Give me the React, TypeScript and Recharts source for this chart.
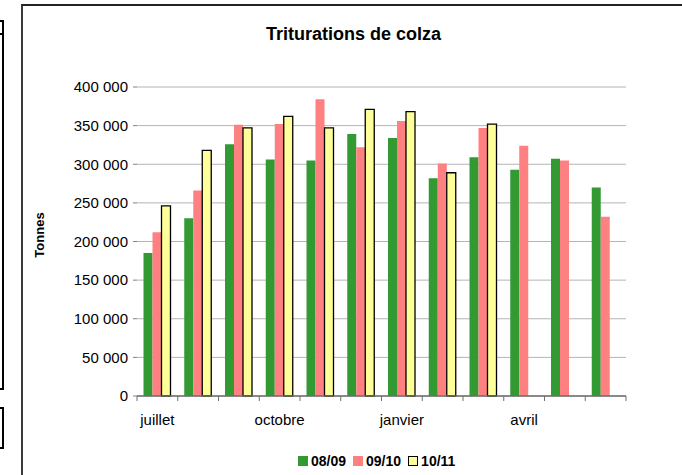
import React from 'react';
import { BarChart, Bar, XAxis, YAxis, CartesianGrid } from 'recharts';

const months = ['juillet', 'août', 'septembre', 'octobre', 'novembre', 'décembre', 'janvier', 'février', 'mars', 'avril', 'mai', 'juin'];
const s0809 = [185000, 230000, 326000, 306000, 305000, 339000, 334000, 282000, 309000, 293000, 307000, 270000];
const s0910 = [212000, 266000, 351000, 352000, 384000, 322000, 356000, 301000, 347000, 324000, 305000, 232000];
const s1011: (number | null)[] = [246000, 318000, 347000, 362000, 347000, 371000, 368000, 289000, 352000, null, null, null];
const yTicks = [0, 50000, 100000, 150000, 200000, 250000, 300000, 350000, 400000];
const seriesNames = ['08/09', '09/10', '10/11'];
const colors = ['#339933', '#ff8080', '#ffff99'];

const data = months.map((m, i) => ({ month: m, a: s0809[i], b: s0910[i], c: s1011[i] }));

const FONT = '"Liberation Sans", Arial, sans-serif';
const W = 682;
const H = 475;
const M = { top: 87, right: 56, bottom: 49, left: 67 };
const YW = 70;
const plotW = W - M.left - YW - M.right;

const fmt = (v: number) => (v === 0 ? '0' : String(v).replace(/\B(?=(\d{3})+(?!\d))/g, ' '));

const XTick = (props: any) => {
  const { x, y, payload, index } = props;
  const off = payload && typeof payload.offset === 'number' && payload.offset > 0 ? payload.offset : plotW / months.length / 2;
  return (
    <g>
      <line x1={x - off} x2={x - off} y1={y} y2={y + 5} stroke="#6e6e6e" strokeWidth={1} />
      {index === months.length - 1 && (
        <line x1={x + off} x2={x + off} y1={y} y2={y + 5} stroke="#6e6e6e" strokeWidth={1} />
      )}
      {index % 3 === 0 && (
        <text x={x} y={y + 28.5} textAnchor="middle" fontSize={15} fontFamily={FONT} fill="#000">
          {payload.value}
        </text>
      )}
    </g>
  );
};

const YLabel = (props: any) => {
  const vb = props.viewBox || { x: M.left, y: M.top, width: YW, height: H - M.top - M.bottom - 30 };
  const cx = vb.x - 23;
  const cy = vb.y + vb.height / 2 - 6.5;
  return (
    <text x={cx} y={cy} transform={`rotate(-90, ${cx}, ${cy})`} textAnchor="middle" fontSize={13} fontWeight="bold" fontFamily={FONT} fill="#000">
      Tonnes
    </text>
  );
};

export default function App() {
  return (
    <div style={{ position: 'absolute', left: 0, top: 0, width: W, height: H, background: '#fff', fontFamily: FONT }}>
      {/* left page artifacts */}
      <div style={{ position: 'absolute', left: -4, top: 20, width: 6, height: 366, borderTop: '2px solid #000', borderRight: '2px solid #000', borderBottom: '2px solid #000' }} />
      <div style={{ position: 'absolute', left: -4, top: 33, width: 8, height: 2, background: '#000' }} />
      <div style={{ position: 'absolute', left: -4, top: 407, width: 6, height: 38, borderTop: '2px solid #000', borderRight: '2px solid #000', borderBottom: '2px solid #000' }} />
      {/* frame */}
      <div style={{ position: 'absolute', left: 21, top: 4, width: W - 21, height: H - 4, borderLeft: '2px solid #3a3a3a', borderTop: '2px solid #222' }} />
      <div style={{ position: 'absolute', left: 0, top: 0 }}>
        <BarChart width={W} height={H} data={data} margin={M} barCategoryGap={6.5} barGap={0}>
          <CartesianGrid vertical={false} stroke="#b4b4b4" />
          <XAxis
            dataKey="month"
            interval={0}
            tickSize={0}
            tickMargin={0}
            tickLine={false}
            tick={<XTick />}
            axisLine={{ stroke: '#6e6e6e', strokeWidth: 1.5 }}
            height={30}
          />
          <YAxis
            width={YW}
            domain={[0, 400000]}
            ticks={yTicks}
            interval={0}
            tickFormatter={fmt}
            axisLine={false}
            tickLine={{ stroke: '#808080' }}
            tickSize={4}
            tickMargin={5}
            tick={{ fontSize: 15, fill: '#000', fontFamily: FONT }}
            label={<YLabel />}
          />
          <Bar dataKey="a" name={seriesNames[0]} fill={colors[0]} isAnimationActive={false} />
          <Bar dataKey="b" name={seriesNames[1]} fill={colors[1]} isAnimationActive={false} />
          <Bar dataKey="c" name={seriesNames[2]} fill={colors[2]} stroke="#000" strokeWidth={1.3} isAnimationActive={false} />
        </BarChart>
      </div>
      {/* title */}
      <div style={{ position: 'absolute', left: 0, width: 707, top: 24, textAlign: 'center', fontSize: 18, fontWeight: 'bold', color: '#000' }}>
        Triturations de colza
      </div>
      {/* legend */}
      <div style={{ position: 'absolute', left: 298, top: 453, display: 'flex', alignItems: 'center', fontSize: 14, fontWeight: 'bold', color: '#000' }}>
        {seriesNames.map((n, i) => (
          <div key={n} style={{ display: 'flex', alignItems: 'center', marginRight: 7 }}>
            <div style={{ width: i === 2 ? 8 : 10, height: i === 2 ? 8 : 10, background: colors[i], border: i === 2 ? '1px solid #000' : 'none', marginRight: 3 }} />
            <span>{n}</span>
          </div>
        ))}
      </div>
    </div>
  );
}
